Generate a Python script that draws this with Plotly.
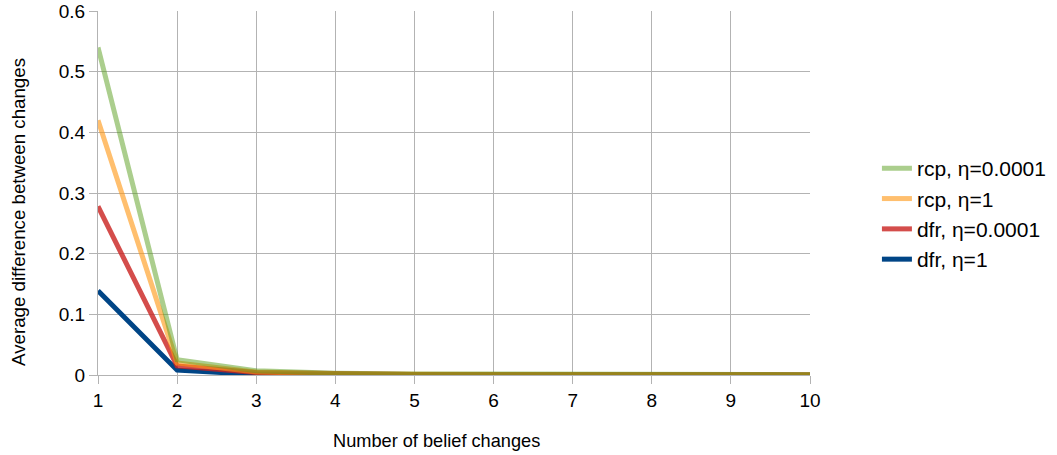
import plotly.graph_objects as go

x_changes = [1, 2, 3, 4, 5, 6, 7, 8, 9, 10]
series_names = ["dfr, η=1", "dfr, η=0.0001", "rcp, η=1", "rcp, η=0.0001"]
dfr_eta1 = [0.139, 0.008, 0.001, 0.0006, 0.0004, 0.0003, 0.0002, 0.0002, 0.0001, 0.0001]
dfr_eta00001 = [0.278, 0.015, 0.004, 0.0015, 0.0008, 0.0005, 0.0004, 0.0003, 0.0003, 0.0002]
rcp_eta1 = [0.42, 0.02, 0.005, 0.002, 0.0012, 0.0008, 0.0006, 0.0005, 0.0004, 0.0003]
rcp_eta00001 = [0.54, 0.025, 0.007, 0.003, 0.0018, 0.0012, 0.0009, 0.0007, 0.0006, 0.0005]
x_title = "Number of belief changes"
y_title = "Average difference between changes"

colors = ["#004586", "rgba(201,33,30,0.8)", "rgba(255,149,14,0.6)", "rgba(87,157,28,0.5)"]
data = [dfr_eta1, dfr_eta00001, rcp_eta1, rcp_eta00001]

fig = go.Figure()
for name, ys, c in zip(series_names, data, colors):
    fig.add_trace(go.Scatter(x=x_changes, y=ys, name=name, mode="lines",
                             line=dict(color=c, width=5)))

font_family = "Liberation Sans, Arial, sans-serif"
fig.update_layout(
    width=1057, height=455,
    margin=dict(l=98, r=247, t=11, b=80, autoexpand=False),
    paper_bgcolor="white", plot_bgcolor="white",
    font=dict(family=font_family, color="black"),
    legend=dict(traceorder="reversed", x=1.094, y=0.442, xanchor="left", yanchor="middle",
                font=dict(size=21), tracegroupgap=0),
    xaxis=dict(range=[1, 10], tickmode="linear", dtick=1, showgrid=True,
               gridcolor="#b3b3b3", gridwidth=1, ticks="outside", ticklen=8,
               tickcolor="#b3b3b3", showline=True, linecolor="#b3b3b3",
               tickfont=dict(size=19), automargin=False, zeroline=False),
    yaxis=dict(range=[0, 0.6], dtick=0.1, showgrid=True, gridcolor="#b3b3b3",
               gridwidth=1, ticks="outside", ticklen=8, tickcolor="#b3b3b3",
               showline=True, linecolor="#b3b3b3", tickfont=dict(size=19),
               tickformat="~g", automargin=False, zeroline=False),
    annotations=[
        dict(text=x_title, xref="paper", yref="paper", x=0.476, y=-0.181,
             xanchor="center", yanchor="middle", showarrow=False,
             font=dict(size=18.2)),
        dict(text=y_title, xref="paper", yref="paper", x=-0.111, y=0.448,
             xanchor="center", yanchor="middle", showarrow=False, textangle=-90,
             font=dict(size=18.7)),
    ],
)
fig.write_html("out.html", config={"displayModeBar": False},
               post_script="document.body.style.margin='0';")
